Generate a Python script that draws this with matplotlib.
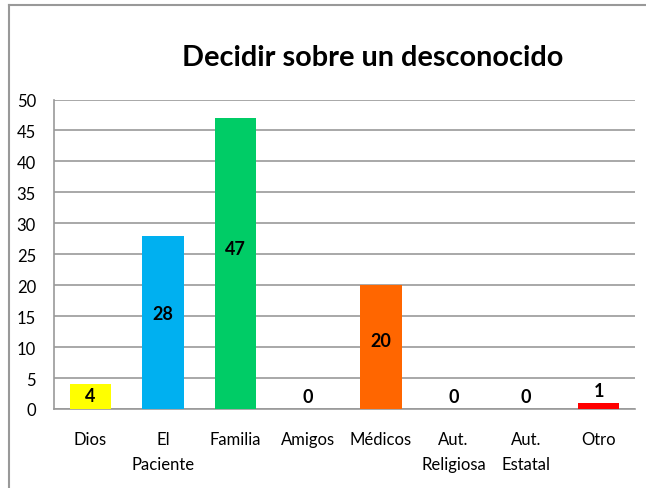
import matplotlib.pyplot as plt
from matplotlib.lines import Line2D

categories = ['Dios', 'El\nPaciente', 'Familia', 'Amigos', 'Médicos', 'Aut.\nReligiosa', 'Aut.\nEstatal', 'Otro']
values = [4, 28, 47, 0, 20, 0, 0, 1]
colors = ['#FFFF00', '#00B0F0', '#00CC66', '#FFFFFF', '#FF6600', '#FFFFFF', '#FFFFFF', '#FF0000']
yticks = list(range(0, 51, 5))

plt.rcParams['font.family'] = ['Lato', 'DejaVu Sans']

fig = plt.figure(figsize=(6.46, 4.89), dpi=100)
ax = fig.add_axes([54 / 646, 1 - 410 / 489, (635 - 54) / 646, (410 - 100.5) / 489])

x = list(range(len(categories)))
ax.bar(x, values, width=0.57, color=colors, zorder=3)

ax.set_xlim(-0.5, len(categories) - 0.5)
ax.set_ylim(0, 50)
ax.set_yticks(yticks)
ax.set_xticks(x)
ax.set_xticklabels(categories, fontsize=12, linespacing=1.7, va='top')
ax.tick_params(axis='both', length=0, labelsize=12)
ax.tick_params(axis='x', pad=16)
ax.tick_params(axis='y', pad=13)
ax.grid(axis='y', color='#999999', linewidth=1.2, zorder=0)
for s in ['top', 'right']:
    ax.spines[s].set_visible(False)
for s in ['left', 'bottom']:
    ax.spines[s].set_color('#999999')
    ax.spines[s].set_linewidth(1.2)

for xi, v in zip(x, values):
    if v >= 4:
        ax.text(xi, v / 2 + 0.1 * v / 2, str(v), ha='center', va='center', fontsize=13, fontweight='bold', zorder=4)
    else:
        ax.text(xi, v + 0.6, str(v), ha='center', va='bottom', fontsize=13, fontweight='bold', zorder=4)

fig.text(373 / 646, 1 - 58 / 489, 'Decidir sobre un desconocido', ha='center', va='center',
         fontsize=20.8, fontweight='bold')

# outer frame
fig.add_artist(Line2D([9 / 646, 9 / 646], [0, 1 - 6 / 489], transform=fig.transFigure, color='#999999', lw=1.5))
fig.add_artist(Line2D([9 / 646, 1], [1 - 6 / 489, 1 - 6 / 489], transform=fig.transFigure, color='#999999', lw=1.5))

fig.savefig('out.png', dpi=100)
